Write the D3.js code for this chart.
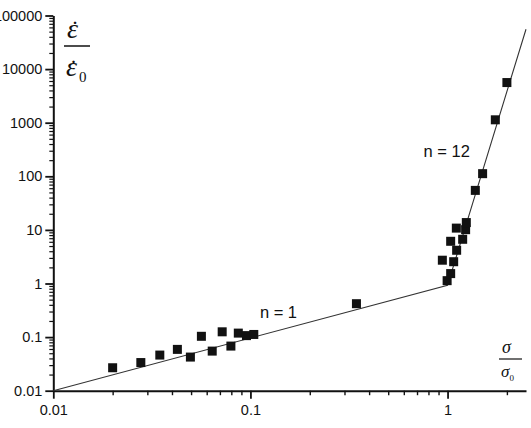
<!DOCTYPE html>
<html>
<head>
<meta charset="utf-8">
<script src="https://cdn.jsdelivr.net/npm/d3@7"></script>
<style>
  html, body { margin: 0; padding: 0; background: #fff; }
  svg { display: block; }
</style>
</head>
<body>
<svg id="chart" width="531" height="428"></svg>
<script>
// ---- data ----
const stressX = [0.0200, 0.0278, 0.0347, 0.0426, 0.0496, 0.0564, 0.0640, 0.0719, 0.0796, 0.0868, 0.0955, 0.1040,
                 0.345,
                 0.995, 1.037, 0.941, 1.074, 1.112, 1.037, 1.193, 1.108, 1.235, 1.245, 1.383, 1.506, 1.747, 2.000];
const rateY   = [0.0268, 0.0335, 0.0462, 0.0590, 0.0424, 0.1035, 0.0548, 0.1255, 0.0680, 0.1187, 0.1066, 0.1120,
                 0.42,
                 1.13, 1.53, 2.72, 2.55, 4.17, 6.13, 6.68, 10.8, 10.1, 13.7, 54.6, 112, 1132, 5610];
const fitX = [0.01, 1, 2.5];
const fitY = [0.01, 0.93, 55400];
const xMajor = [0.01, 0.1, 1];
const xMajorLabels = ["0.01", "0.1", "1"];
const xMinor = [0.02,0.03,0.04,0.05,0.06,0.07,0.08,0.09,0.2,0.3,0.4,0.5,0.6,0.7,0.8,0.9,2];
const yMajor = [0.01, 0.1, 1, 10, 100, 1000, 10000, 100000];
const yMajorLabels = ["0.01", "0.1", "1", "10", "100", "1000", "10000", "100000"];
const slopeLabels = ["n = 1", "n = 12"];
const slopeLabelX = [0.1117, 0.756];
const slopeLabelY = [0.226, 227];

// ---- layout ----
const svg = d3.select("#chart");
const x = d3.scaleLog().domain([0.01, 2.5]).range([53.3, 526]);
const y = d3.scaleLog().domain([0.01, 100000]).range([390.7, 15.5]);
const yMinor = [];
for (let e = -2; e < 5; e++) for (let m = 2; m <= 9; m++) yMinor.push(m * Math.pow(10, e));

const ink = "#111";
const fontSans = "'Liberation Sans', Arial, sans-serif";

// minor ticks
svg.append("g").attr("transform", `translate(0,${y.range()[0]})`)
  .call(d3.axisBottom(x).tickValues(xMinor).tickSize(4.5).tickFormat(""))
  .call(g => g.select(".domain").remove())
  .call(g => g.selectAll("line").attr("stroke", ink).attr("stroke-width", 1.4));
svg.append("g").attr("transform", `translate(${x.range()[0]},0)`)
  .call(d3.axisLeft(y).tickValues(yMinor).tickSize(4).tickFormat(""))
  .call(g => g.select(".domain").remove())
  .call(g => g.selectAll("line").attr("stroke", ink).attr("stroke-width", 1.2));

// major axes
const xAxis = svg.append("g").attr("transform", `translate(0,${y.range()[0]})`)
  .call(d3.axisBottom(x).tickValues(xMajor).tickSize(8).tickPadding(6).tickSizeOuter(0)
        .tickFormat((d, i) => xMajorLabels[i]));
const yAxis = svg.append("g").attr("transform", `translate(${x.range()[0]},0)`)
  .call(d3.axisLeft(y).tickValues(yMajor).tickSize(8).tickPadding(3).tickSizeOuter(0)
        .tickFormat((d, i) => yMajorLabels[i]));
[xAxis, yAxis].forEach(g => {
  g.select(".domain").attr("stroke", ink).attr("stroke-width", 2);
  g.selectAll(".tick line").attr("stroke", ink).attr("stroke-width", 1.8);
  g.selectAll(".tick text").attr("fill", ink).attr("font-family", fontSans).attr("font-size", "14.5px");
});

// fitted line
const line = d3.line().x(d => x(d[0])).y(d => y(d[1]));
svg.append("path").datum(fitX.map((v, i) => [v, fitY[i]]))
  .attr("d", line).attr("fill", "none").attr("stroke", "#333").attr("stroke-width", 1.1);

// points
const sq = 9;
svg.append("g").selectAll("rect").data(stressX.map((v, i) => [v, rateY[i]])).join("rect")
  .attr("x", d => x(d[0]) - sq / 2).attr("y", d => y(d[1]) - sq / 2)
  .attr("width", sq).attr("height", sq).attr("fill", ink);

// slope labels
svg.append("g").selectAll("text").data(slopeLabels).join("text")
  .attr("x", (d, i) => x(slopeLabelX[i])).attr("y", (d, i) => y(slopeLabelY[i]))
  .attr("font-family", fontSans).attr("font-size", "16.5px").attr("fill", ink)
  .text(d => d);

// y-axis title: strain rate ratio (epsilon-dot over epsilon-dot-zero)
const serif = "'Liberation Serif', 'Times New Roman', serif";
const yt = svg.append("g");
const num = yt.append("text").attr("font-family", serif).attr("fill", ink);
num.append("tspan").attr("x", 67).attr("y", 37.5).attr("font-style", "italic").attr("font-size", "28px").text("ε");
num.append("tspan").attr("x", 71).attr("y", 37).attr("font-size", "24px").text("˙");
yt.append("line").attr("x1", 64).attr("x2", 90).attr("y1", 46).attr("y2", 46)
  .attr("stroke", ink).attr("stroke-width", 1.5);
const den = yt.append("text").attr("font-family", serif).attr("fill", ink);
den.append("tspan").attr("x", 66).attr("y", 76).attr("font-style", "italic").attr("font-size", "28px").text("ε");
den.append("tspan").attr("x", 69.5).attr("y", 75.5).attr("font-size", "24px").text("˙");
den.append("tspan").attr("x", 79).attr("y", 82).attr("font-size", "15px").text("0");

// x-axis title: stress ratio
const xt = svg.append("g");
xt.append("text").attr("x", 502).attr("y", 352.5).attr("font-family", serif).attr("font-style", "italic")
  .attr("font-size", "18px").attr("fill", ink).text("σ");
xt.append("line").attr("x1", 499).attr("x2", 522).attr("y1", 359).attr("y2", 359)
  .attr("stroke", ink).attr("stroke-width", 1.2);
const xden = xt.append("text").attr("x", 501).attr("y", 377).attr("font-family", serif).attr("fill", ink);
xden.append("tspan").attr("font-style", "italic").attr("font-size", "17px").text("σ");
xden.append("tspan").attr("font-size", "9px").attr("dy", 4).text("0");
</script>
</body>
</html>
